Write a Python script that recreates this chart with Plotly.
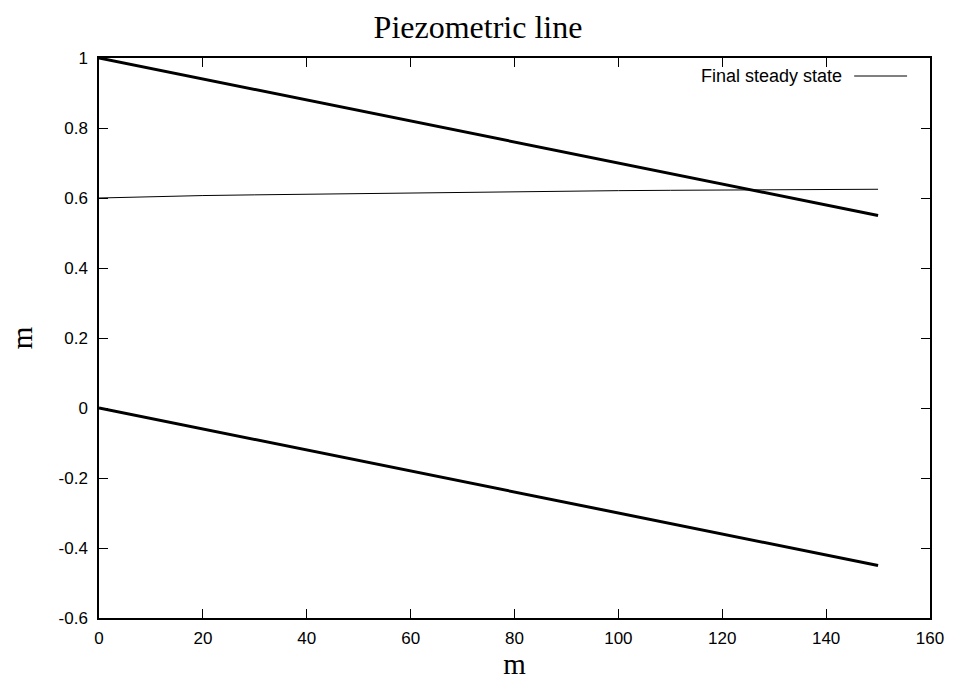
import plotly.graph_objects as go

# Data
x_steady = [0, 10, 20, 30, 40, 50, 60, 70, 80, 90, 100, 110, 120, 130, 140, 150]
y_steady = [0.600, 0.604, 0.607, 0.609, 0.611, 0.613, 0.614, 0.616, 0.618, 0.620,
            0.621, 0.622, 0.623, 0.624, 0.625, 0.625]
x_top = [0, 150]
y_top = [1.0, 0.55]
x_bottom = [0, 150]
y_bottom = [0.0, -0.45]

x_ticks = [0, 20, 40, 60, 80, 100, 120, 140, 160]
y_ticks = [-0.6, -0.4, -0.2, 0, 0.2, 0.4, 0.6, 0.8, 1]
y_tick_labels = ["-0.6", "-0.4", "-0.2", "0", "0.2", "0.4", "0.6", "0.8", "1"]

fig = go.Figure()
fig.add_trace(go.Scatter(x=x_top, y=y_top, mode="lines",
                         line=dict(color="black", width=3), showlegend=False))
fig.add_trace(go.Scatter(x=x_bottom, y=y_bottom, mode="lines",
                         line=dict(color="black", width=3), showlegend=False))
fig.add_trace(go.Scatter(x=x_steady, y=y_steady, mode="lines", name="Final steady state",
                         line=dict(color="black", width=1), showlegend=False))

axis_common = dict(showline=True, mirror="ticks", linecolor="black", linewidth=1.5,
                   ticks="inside", ticklen=9, tickwidth=1, tickcolor="black",
                   showgrid=False, zeroline=False,
                   tickfont=dict(family="Liberation Sans, Arial", size=17, color="black"))

fig.update_layout(
    width=956, height=680,
    margin=dict(l=99, r=24, t=58, b=62),
    paper_bgcolor="white", plot_bgcolor="white",
    title=dict(text="Piezometric line", x=0.5, xanchor="center", y=1 - 27 / 680, yanchor="middle",
               font=dict(family="Liberation Serif, Times New Roman", size=32, color="black")),
    xaxis=dict(range=[0, 160], tickvals=x_ticks, ticklabelstandoff=4,
               title=dict(text="m", standoff=0,
                          font=dict(family="Liberation Serif, Times New Roman", size=29, color="black")),
               **axis_common),
    yaxis=dict(range=[-0.6, 1], tickvals=y_ticks, ticktext=y_tick_labels, ticklabelstandoff=6,
               title=dict(text="m", standoff=17,
                          font=dict(family="Liberation Serif, Times New Roman", size=29, color="black")),
               **axis_common),
    showlegend=False,
)

# gnuplot-style key: text then line sample
fig.add_annotation(xref="paper", yref="paper", x=(846 - 99) / 833, y=(618 - 76) / 560,
                   text="Final steady state", showarrow=False, xanchor="right", yanchor="middle",
                   font=dict(family="Liberation Sans, Arial", size=18, color="black"))
fig.add_shape(type="line", xref="paper", yref="paper",
              x0=(856 - 99) / 833, x1=(909 - 99) / 833,
              y0=(618 - 76) / 560, y1=(618 - 76) / 560,
              line=dict(color="black", width=1))

fig.write_html("out.html")
